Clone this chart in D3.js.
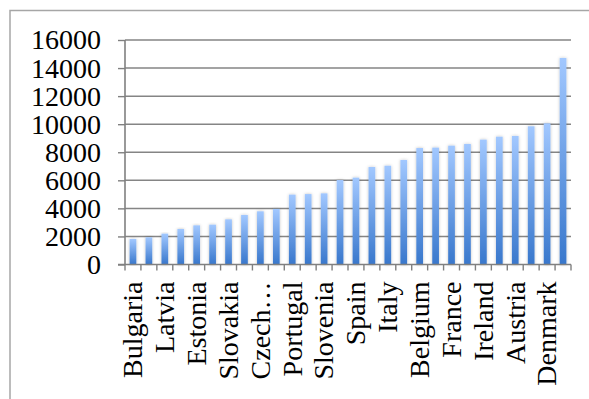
<!DOCTYPE html>
<html>
<head>
<meta charset="utf-8">
<script src="https://cdn.jsdelivr.net/npm/d3@7"></script>
<style>
  body { margin: 0; background: #fff; }
  svg text { font-family: "Liberation Serif", "DejaVu Serif", serif; fill: #000; }
</style>
</head>
<body>
<div id="chart"></div>
<script>
// countries, lowest to highest
const countries = ["Bulgaria", "Romania", "Latvia", "Lithuania", "Estonia", "Hungary", "Slovakia",
  "Poland", "Czech Republic", "Croatia", "Portugal", "Malta", "Slovenia", "Greece", "Spain",
  "Cyprus", "Italy", "Germany", "Belgium", "Finland", "France", "United Kingdom", "Ireland",
  "Netherlands", "Austria", "Sweden", "Denmark", "Luxembourg"];
const values = [1820, 1940, 2200, 2530, 2790, 2840, 3220, 3530, 3790, 3960, 4980, 5020, 5070,
  6020, 6190, 6950, 7040, 7450, 8300, 8330, 8470, 8590, 8900, 9110, 9160, 9850, 10060, 14720];
const yTicks = [0, 2000, 4000, 6000, 8000, 10000, 12000, 14000, 16000];

const W = 589, H = 399;
const margin = {top: 40, right: 18, bottom: 134.5, left: 125};
const width = W - margin.left - margin.right,
      height = H - margin.top - margin.bottom;

const svg = d3.select("#chart").append("svg")
    .attr("width", W)
    .attr("height", H);

// chart frame (only top and left edges are visible)
svg.append("path")
    .attr("d", "M10," + H + "V10.5H" + W)
    .attr("fill", "none")
    .attr("stroke", "#a6a6a6")
    .attr("stroke-width", 1.5);

const defs = svg.append("defs");
const grad = defs.append("linearGradient")
    .attr("id", "barGrad")
    .attr("x1", 0).attr("y1", 1).attr("x2", 0).attr("y2", 0);
grad.append("stop").attr("offset", "0%").attr("stop-color", "#3877cc");
grad.append("stop").attr("offset", "100%").attr("stop-color", "#a2c8ff");

const shadow = defs.append("filter").attr("id", "shadow")
    .attr("x", "-80%").attr("y", "-5%").attr("width", "260%").attr("height", "110%");
shadow.append("feDropShadow")
    .attr("dx", 0).attr("dy", 0)
    .attr("stdDeviation", 1.6)
    .attr("flood-color", "#000")
    .attr("flood-opacity", 0.25);

const g = svg.append("g")
    .attr("transform", "translate(" + margin.left + "," + margin.top + ")");

const x = d3.scaleBand()
    .domain(countries)
    .range([0, width])
    .paddingInner(0.58)
    .paddingOuter(0.29);
const y = d3.scaleLinear()
    .domain([0, 16000])
    .range([height, 0]);

// gridlines
g.append("g")
    .selectAll("line")
    .data(yTicks.filter(d => d > 0))
  .enter().append("line")
    .attr("x1", 0)
    .attr("x2", width)
    .attr("y1", d => y(d))
    .attr("y2", d => y(d))
    .attr("stroke", "#858585")
    .attr("stroke-width", 1.5);

// bars
g.selectAll(".bar")
    .data(countries)
  .enter().append("rect")
    .attr("class", "bar")
    .attr("x", d => x(d))
    .attr("width", x.bandwidth())
    .attr("y", (d, i) => y(values[i]))
    .attr("height", (d, i) => height - y(values[i]))
    .attr("fill", "url(#barGrad)")
    .attr("filter", "url(#shadow)");

// y axis
const yAxis = g.append("g")
    .call(d3.axisLeft(y).tickValues(yTicks).tickSize(7).tickPadding(17).tickFormat(d3.format("d")));
yAxis.selectAll("text").style("font-size", "28px");

// x axis: ticks sit between categories, every other label shown
const xAxis = g.append("g")
    .attr("transform", "translate(0," + height + ")")
    .call(d3.axisBottom(x).tickSize(0).tickFormat((d, i) => {
      if (i % 2) return "";
      return d.length > 10 ? d.split(" ")[0] + "…" : d;
    }));
xAxis.selectAll(".tick text")
    .style("font-size", "28px")
    .attr("text-anchor", "end")
    .attr("transform", "rotate(-90)")
    .attr("x", -17)
    .attr("y", 0)
    .attr("dy", "0.33em");
xAxis.selectAll(".boundary")
    .data(d3.range(countries.length + 1))
  .enter().append("line")
    .attr("class", "boundary")
    .attr("x1", i => i * width / countries.length)
    .attr("x2", i => i * width / countries.length)
    .attr("y1", 0)
    .attr("y2", 6)
    .attr("stroke", "#808080")
    .attr("stroke-width", 1.4);

[yAxis, xAxis].forEach(a => {
  a.select(".domain").attr("stroke", "#808080").attr("stroke-width", 1.6);
  a.selectAll(".tick line").attr("stroke", "#808080").attr("stroke-width", 1.4);
});
yAxis.select(".domain").attr("d", "M0,0V" + height);
xAxis.select(".domain").attr("d", "M-7,0H" + width);
</script>
</body>
</html>
